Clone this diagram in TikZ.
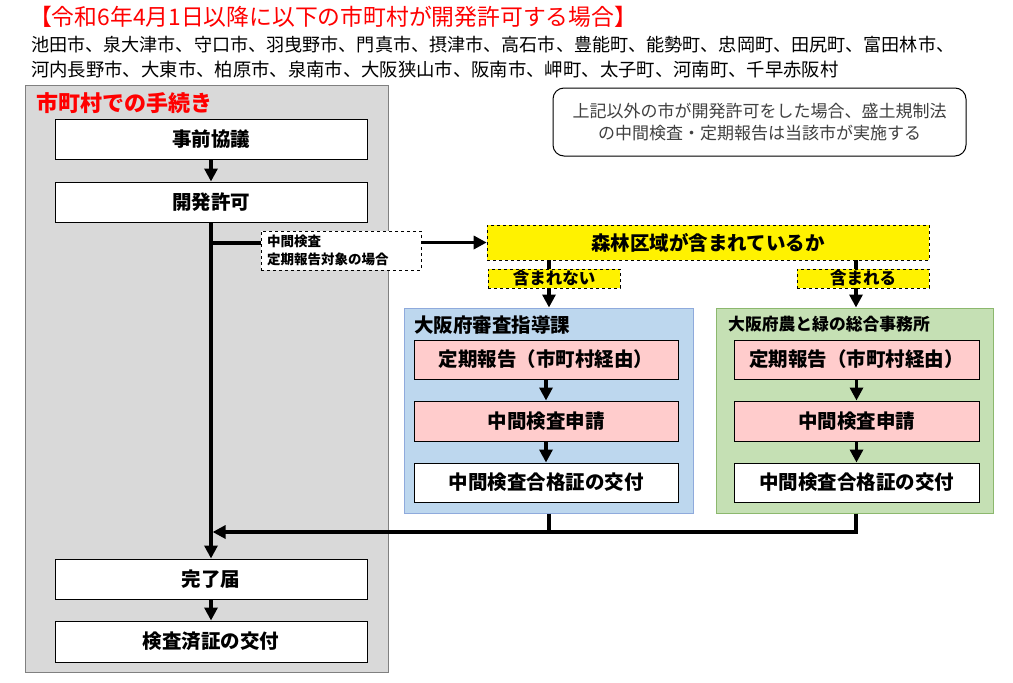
\documentclass[tikz,border=0pt]{standalone}
\usepackage{fontspec}
\setmainfont{Noto Sans CJK JP}
\usetikzlibrary{arrows.meta}
\definecolor{grayfill}{HTML}{D9D9D9}
\definecolor{grayline}{HTML}{808080}
\definecolor{bluefill}{HTML}{BDD7EE}
\definecolor{blueline}{HTML}{8FAADC}
\definecolor{greenfill}{HTML}{C5E0B4}
\definecolor{greenline}{HTML}{8CB86E}
\definecolor{pinkfill}{HTML}{FFCCCC}
\definecolor{notetext}{HTML}{404040}
\tikzset{
  stepbox/.style={draw=black, line width=1pt, fill=white, inner sep=0pt, minimum width=312pt, minimum height=40pt, font=\fontsize{19.5}{23}\selectfont\bfseries},
  innerbox/.style={draw=black, line width=1pt, inner sep=0pt, minimum height=39pt, font=\fontsize{19.5}{23}\selectfont\bfseries},
  yellowbox/.style={draw=black, dashed, line width=0.6pt, fill=yellow, inner sep=0pt},
  conn/.style={line width=3.2pt},
  arr/.style={line width=3.2pt, -{Triangle[width=13pt,length=13pt]}},
}
\begin{document}
\begin{tikzpicture}[x=1pt,y=-1pt]
\useasboundingbox (0,0) rectangle (1013,683);
% header
\node[anchor=west, text=red, inner sep=0pt, font=\fontsize{22.8}{27}\selectfont] (title) at (29,17) {【令和6年4月1日以降に以下の市町村が開発許可する場合】};
\node[anchor=west, inner sep=0pt, font=\fontsize{18.1}{22}\selectfont] (line2) at (31,45) {池田市、泉大津市、守口市、羽曳野市、門真市、摂津市、高石市、豊能町、能勢町、忠岡町、田尻町、富田林市、};
\node[anchor=west, inner sep=0pt, font=\fontsize{18.35}{22}\selectfont] (line3) at (31,70) {河内長野市、大東市、柏原市、泉南市、大阪狭山市、阪南市、岬町、太子町、河南町、千早赤阪村};
% gray municipal area
\node[draw=grayline, fill=grayfill, line width=1pt, inner sep=0pt, minimum width=363pt, minimum height=587pt] (area) at (206.5,378.5) {};
\node[anchor=west, text=red, inner sep=0pt, font=\fontsize{22}{26}\selectfont\bfseries] (areatitle) at (36,103) {市町村での手続き};
% note
\node[draw=black, line width=1pt, rounded corners=11pt, fill=white, minimum width=413pt, minimum height=68pt, align=center, text=notetext, font=\fontsize{17}{22}\selectfont] (note) at (759.5,122) {上記以外の市が開発許可をした場合、盛土規制法\\の中間検査・定期報告は当該市が実施する};
% municipal steps
\node[stepbox] (pre) at (211,139) {事前協議};
\node[stepbox] (permit) at (211,202) {開発許可};
\node[stepbox] (done) at (211,579) {完了届};
\node[stepbox, minimum height=41pt] (cert) at (211,641.5) {検査済証の交付};
% dashed condition label
\node[draw=black, dashed, line width=0.6pt, fill=white, minimum width=160pt, minimum height=39pt, inner sep=0pt, align=left, text width=148pt, font=\fontsize{13.5}{18}\selectfont\bfseries] (cond) at (341,250.5) {中間検査\\定期報告対象の場合};
% forest question
\node[yellowbox, minimum width=442pt, minimum height=35pt, font=\fontsize{19.5}{23}\selectfont\bfseries] (forest) at (708,242.5) {森林区域が含まれているか};
% offices
\node[draw=blueline, fill=bluefill, line width=1pt, minimum width=289pt, minimum height=205pt, inner sep=0pt] (blue) at (548.5,410.5) {};
\node[draw=greenline, fill=greenfill, line width=1pt, minimum width=277pt, minimum height=205pt, inner sep=0pt] (green) at (854.5,410.5) {};
\node[anchor=west, inner sep=0pt, font=\fontsize{19.5}{23}\selectfont\bfseries] (bluetitle) at (414,325) {大阪府審査指導課};
\node[anchor=west, inner sep=0pt, font=\fontsize{16.8}{20}\selectfont\bfseries] (greentitle) at (728,324) {大阪府農と緑の総合事務所};
\node[innerbox, fill=pinkfill, minimum width=264pt] (b1) at (546,359.5) {定期報告（市町村経由）};
\node[innerbox, fill=pinkfill, minimum width=264pt, minimum height=40pt] (b2) at (546,421) {中間検査申請};
\node[innerbox, fill=white, minimum width=264pt] (b3) at (546,482.5) {中間検査合格証の交付};
\node[innerbox, fill=pinkfill, minimum width=245pt] (g1) at (856.5,359.5) {定期報告（市町村経由）};
\node[innerbox, fill=pinkfill, minimum width=245pt, minimum height=40pt] (g2) at (856.5,421) {中間検査申請};
\node[innerbox, fill=white, minimum width=245pt] (g3) at (856.5,482.5) {中間検査合格証の交付};
% coordinates
\coordinate (branch) at (211,243);
\coordinate (merge) at (211,532);
\coordinate (bx) at (549,0);
\coordinate (gx) at (856,0);
% connectors municipal
\draw[arr] (pre) -- (permit);
\draw[conn] (permit.south) -- (merge);
\draw[arr] (merge) -- (done);
\draw[arr] (done) -- (cert);
\draw[conn] (branch) -- (branch -| cond.west);
\draw[arr] (forest.west -| cond.east) -- (forest.west);
% forest branches
\draw[arr] (bx |- forest.south) -- (bx |- blue.north);
\draw[arr] (gx |- forest.south) -- (gx |- green.north);
\node[yellowbox, minimum width=132pt, minimum height=19pt, font=\fontsize{16.5}{19}\selectfont\bfseries] (no) at (554,278.5) {含まれない};
\node[yellowbox, minimum width=132pt, minimum height=19pt, font=\fontsize{16.5}{19}\selectfont\bfseries] (yes) at (863,278.5) {含まれる};
% office inner arrows
\draw[arr] (b1) -- (b2);
\draw[arr] (b2) -- (b3);
\draw[arr] (g1) -- (g2);
\draw[arr] (g2) -- (g3);
% return
\draw[conn] (bx |- blue.south) -- (bx |- merge);
\draw[arr] (gx |- green.south) -- (gx |- merge) -- ([xshift=1.6pt]merge);
\end{tikzpicture}
\end{document}
